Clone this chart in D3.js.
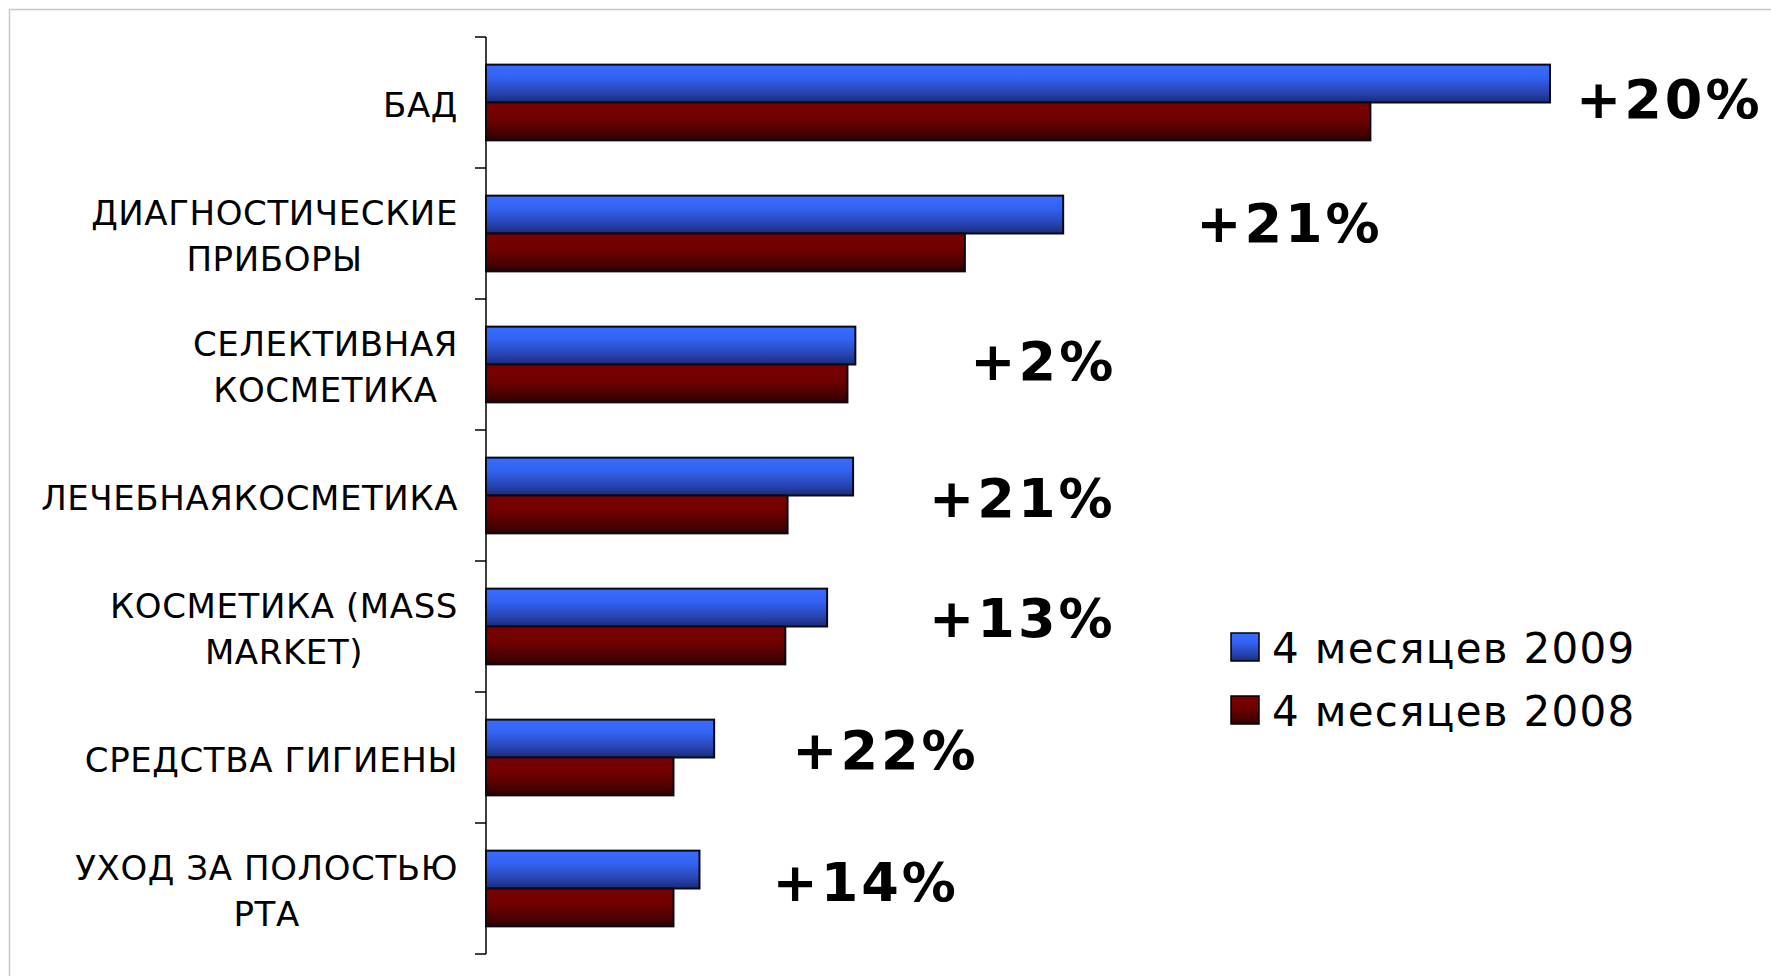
<!DOCTYPE html>
<html>
<head>
<meta charset="utf-8">
<script src="https://cdn.jsdelivr.net/npm/d3@7"></script>
<style>
  html, body { margin: 0; padding: 0; background: #fff; }
  svg { display: block; }
</style>
</head>
<body>
<svg id="chart" width="1771" height="976"></svg>
<script>
// ---- Data ----
const categories = [
  ["БАД"],
  ["ДИАГНОСТИЧЕСКИЕ", "ПРИБОРЫ"],
  ["СЕЛЕКТИВНАЯ", "КОСМЕТИКА"],
  ["ЛЕЧЕБНАЯКОСМЕТИКА"],
  ["КОСМЕТИКА (MASS", "MARKET)"],
  ["СРЕДСТВА ГИГИЕНЫ"],
  ["УХОД ЗА ПОЛОСТЬЮ", "РТА"]
];
const values2009 = [942, 511, 327, 325, 302, 202, 189];
const values2008 = [783, 424, 320, 267, 265, 166, 166];
const growthLabels = ["+20%", "+21%", "+2%", "+21%", "+13%", "+22%", "+14%"];
const seriesNames = ["4 месяцев 2009", "4 месяцев 2008"];

// ---- Layout (not data) ----
const growthDx = [26, 133, 115, 76, 102, 78, 73];
const growthDy = [-3.5, -10.5, -3.5, 2.5, -8.5, -7.5, -6.5];

const W = 1771, H = 976;
const svg = d3.select("#chart");
const axisX = 486, plotTop = 37, plotBottom = 954;

const defs = svg.append("defs");
function grad(id, stops) {
  const g = defs.append("linearGradient").attr("id", id)
    .attr("x1", 0).attr("y1", 0).attr("x2", 0).attr("y2", 1);
  stops.forEach(([o, c]) => g.append("stop").attr("offset", o).attr("stop-color", c));
}
grad("gBlue", [[0, "#3a6cff"], [0.35, "#3262f0"], [0.75, "#2743b0"], [1, "#1a2a78"]]);
grad("gRed", [[0, "#7a0000"], [0.4, "#720000"], [0.8, "#4a0000"], [1, "#2a0000"]]);

// frame (top & left only visible)
svg.append("rect").attr("x", 9.5).attr("y", 9.5).attr("width", W + 20).attr("height", H + 20)
  .attr("fill", "none").attr("stroke", "#c8c8c8").attr("stroke-width", 1.5);

const x = d3.scaleLinear().domain([0, 1000]).range([axisX, axisX + 1129.5]);
const y = d3.scaleBand().domain(d3.range(categories.length)).range([plotTop, plotBottom]).paddingInner(0).paddingOuter(0);
const inner = d3.scaleBand().domain([0, 1]).range([0, y.bandwidth()]).paddingOuter(0.73).paddingInner(0);

// axis
const axis = d3.axisLeft(y).tickSize(0).tickFormat("");
const ax = svg.append("g").attr("transform", `translate(${axisX},0)`).call(axis);
ax.select(".domain").attr("stroke", "#000").attr("stroke-width", 1.5).attr("d", `M0,${plotTop}V${plotBottom}`);
const boundaries = d3.range(categories.length + 1).map(i => plotTop + i * y.bandwidth());
ax.selectAll(".bt").data(boundaries).join("line").attr("class", "bt")
  .attr("x1", -11).attr("x2", 0).attr("y1", d => d).attr("y2", d => d)
  .attr("stroke", "#000").attr("stroke-width", 1.5);

// bars
const series = [
  { vals: values2009, fill: "url(#gBlue)", k: 0 },
  { vals: values2008, fill: "url(#gRed)", k: 1 }
];
series.forEach(s => {
  svg.append("g").selectAll("rect").data(s.vals).join("rect")
    .attr("x", x(0))
    .attr("y", (d, i) => y(i) + inner(s.k))
    .attr("width", d => x(d) - x(0))
    .attr("height", inner.bandwidth())
    .attr("fill", s.fill)
    .attr("stroke", "#0a0a14").attr("stroke-width", 2);
});

// category labels
const labG = svg.append("g");
categories.forEach((lines, i) => {
  const cy = y(i) + y.bandwidth() / 2 + 2;
  const g = labG.append("g");
  const texts = lines.map((t, j) => g.append("text")
    .attr("y", cy + (j - (lines.length - 1) / 2) * 46)
    .attr("dominant-baseline", "central")
    .attr("text-anchor", "middle")
    .attr("font-family", "DejaVu Sans, Verdana, sans-serif")
    .attr("font-size", 34)
    .attr("letter-spacing", 0.6)
    .attr("fill", "#000")
    .text(t));
  const wmax = d3.max(texts, t => t.node().getComputedTextLength());
  texts.forEach(t => t.attr("x", 458 - wmax / 2));
});

// growth labels
svg.append("g").selectAll("text").data(growthLabels).join("text")
  .attr("x", (d, i) => x(values2009[i]) + growthDx[i])
  .attr("y", (d, i) => y(i) + y.bandwidth() / 2 + growthDy[i])
  .attr("dominant-baseline", "central")
  .attr("font-family", "DejaVu Sans, Verdana, sans-serif")
  .attr("font-weight", "bold")
  .attr("font-size", 54)
  .attr("letter-spacing", 3)
  .attr("fill", "#000")
  .text(d => d);

// legend
const leg = svg.append("g").attr("transform", "translate(1231,633)");
const legFills = ["url(#gBlue)", "url(#gRed)"];
seriesNames.forEach((n, i) => {
  const g = leg.append("g").attr("transform", `translate(0,${i * 63})`);
  g.append("rect").attr("width", 28).attr("height", 28)
    .attr("fill", legFills[i]).attr("stroke", "#000").attr("stroke-width", 1.5);
  g.append("text").attr("x", 41).attr("y", 15)
    .attr("dominant-baseline", "central")
    .attr("font-family", "DejaVu Sans, Verdana, sans-serif")
    .attr("font-size", 42)
    .attr("letter-spacing", 1.3)
    .attr("fill", "#000")
    .text(n);
});
</script>
</body>
</html>
